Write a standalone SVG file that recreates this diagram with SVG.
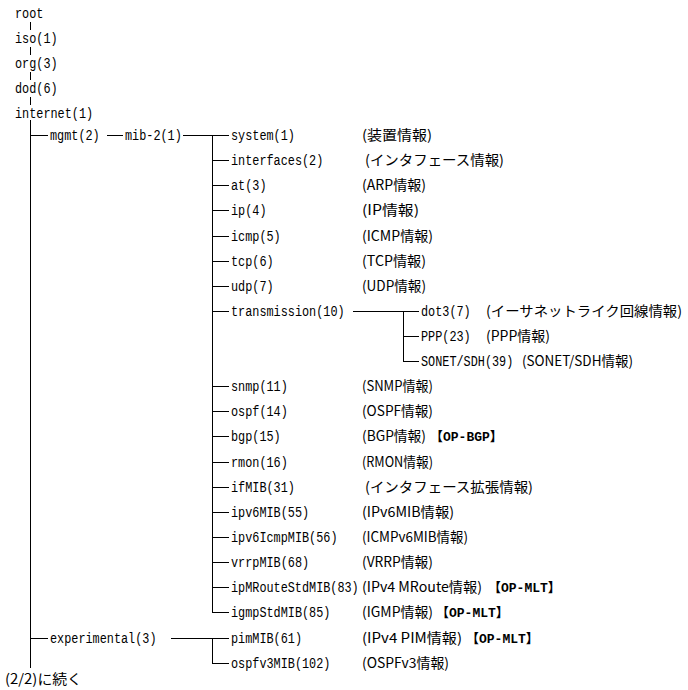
<svg xmlns="http://www.w3.org/2000/svg" width="688" height="690" viewBox="0 0 688 690">
<style>
.l{font-family:"Liberation Mono","Noto Sans CJK JP",monospace;font-size:14px;fill:#000}
.c{font-family:"Noto Sans CJK JP","Liberation Sans",sans-serif;font-size:14px;fill:#000}
.t{font-family:"Liberation Mono","Noto Sans CJK JP",monospace;font-size:13px;font-weight:bold;fill:#000}
.ln{stroke:#000;stroke-width:1;fill:none;shape-rendering:crispEdges}
</style>
<rect width="688" height="690" fill="#fff"/>
<g id="connectors" class="ln">
<path d="M30.5 22V30M30.5 47V55M30.5 72V80M30.5 97V105"/>
<path d="M30.5 120V668M30 135.5H48M30 638.5H48"/>
<path d="M107 135.5H123M183 135.5H229"/>
<path d="M212.5 135V612"/>
<path d="M212 160.5H229M212 185.5H229M212 210.5H229M212 236.5H229M212 261.5H229M212 286.5H229M212 311.5H229M212 386.5H229M212 411.5H229M212 436.5H229M212 462.5H229M212 487.5H229M212 512.5H229M212 537.5H229M212 562.5H229M212 587.5H229M212 612.5H229"/>
<path d="M353 311.5H419M403.5 311V361M403 336.5H419M403 361.5H419"/>
<path d="M171 638.5H229M212.5 638V663M212 663.5H229"/>
</g>
<g id="root"><text class="l" x="15" y="18" textLength="28.4" lengthAdjust="spacingAndGlyphs">root</text></g>
<g id="iso"><text class="l" x="15" y="43" textLength="42.6" lengthAdjust="spacingAndGlyphs">iso(1)</text></g>
<g id="org"><text class="l" x="15" y="68" textLength="42.6" lengthAdjust="spacingAndGlyphs">org(3)</text></g>
<g id="dod"><text class="l" x="15" y="93" textLength="42.6" lengthAdjust="spacingAndGlyphs">dod(6)</text></g>
<g id="internet"><text class="l" x="15" y="118" textLength="78.1" lengthAdjust="spacingAndGlyphs">internet(1)</text></g>
<g id="mgmt"><text class="l" x="50" y="140" textLength="49.7" lengthAdjust="spacingAndGlyphs">mgmt(2)</text></g>
<g id="mib-2"><text class="l" x="125" y="140" textLength="56.8" lengthAdjust="spacingAndGlyphs">mib-2(1)</text></g>
<g id="system"><text class="l" x="231" y="140" textLength="63.9" lengthAdjust="spacingAndGlyphs">system(1)</text><text class="c" x="362" y="140" textLength="70" lengthAdjust="spacingAndGlyphs">(装置情報)</text></g>
<g id="interfaces"><text class="l" x="231" y="165" textLength="92.3" lengthAdjust="spacingAndGlyphs">interfaces(2)</text><text class="c" x="365" y="165" textLength="139" lengthAdjust="spacingAndGlyphs">(インタフェース情報)</text></g>
<g id="at"><text class="l" x="231" y="190" textLength="35.5" lengthAdjust="spacingAndGlyphs">at(3)</text><text class="c" x="362" y="190" textLength="64" lengthAdjust="spacingAndGlyphs">(ARP情報)</text></g>
<g id="ip"><text class="l" x="231" y="215" textLength="35.5" lengthAdjust="spacingAndGlyphs">ip(4)</text><text class="c" x="362" y="215" textLength="57" lengthAdjust="spacingAndGlyphs">(IP情報)</text></g>
<g id="icmp"><text class="l" x="231" y="241" textLength="49.7" lengthAdjust="spacingAndGlyphs">icmp(5)</text><text class="c" x="362" y="241" textLength="71" lengthAdjust="spacingAndGlyphs">(ICMP情報)</text></g>
<g id="tcp"><text class="l" x="231" y="266" textLength="42.6" lengthAdjust="spacingAndGlyphs">tcp(6)</text><text class="c" x="362" y="266" textLength="64" lengthAdjust="spacingAndGlyphs">(TCP情報)</text></g>
<g id="udp"><text class="l" x="231" y="291" textLength="42.6" lengthAdjust="spacingAndGlyphs">udp(7)</text><text class="c" x="362" y="291" textLength="64" lengthAdjust="spacingAndGlyphs">(UDP情報)</text></g>
<g id="transmission"><text class="l" x="231" y="316" textLength="113.6" lengthAdjust="spacingAndGlyphs">transmission(10)</text></g>
<g id="dot3"><text class="l" x="421" y="316" textLength="49.7" lengthAdjust="spacingAndGlyphs">dot3(7)</text><text class="c" x="486" y="316" textLength="196" lengthAdjust="spacingAndGlyphs">(イーサネットライク回線情報)</text></g>
<g id="ppp"><text class="l" x="421" y="341" textLength="49.7" lengthAdjust="spacingAndGlyphs">PPP(23)</text><text class="c" x="486" y="341" textLength="64" lengthAdjust="spacingAndGlyphs">(PPP情報)</text></g>
<g id="sonet"><text class="l" x="421" y="366" textLength="92.3" lengthAdjust="spacingAndGlyphs">SONET/SDH(39)</text><text class="c" x="522" y="366" textLength="111" lengthAdjust="spacingAndGlyphs">(SONET/SDH情報)</text></g>
<g id="snmp"><text class="l" x="231" y="391" textLength="56.8" lengthAdjust="spacingAndGlyphs">snmp(11)</text><text class="c" x="362" y="391" textLength="71" lengthAdjust="spacingAndGlyphs">(SNMP情報)</text></g>
<g id="ospf"><text class="l" x="231" y="416" textLength="56.8" lengthAdjust="spacingAndGlyphs">ospf(14)</text><text class="c" x="362" y="416" textLength="71" lengthAdjust="spacingAndGlyphs">(OSPF情報)</text></g>
<g id="bgp"><text class="l" x="231" y="441" textLength="49.7" lengthAdjust="spacingAndGlyphs">bgp(15)</text><text class="c" x="362" y="441" textLength="64" lengthAdjust="spacingAndGlyphs">(BGP情報)</text><text class="t" x="430" y="441">【OP-BGP】</text></g>
<g id="rmon"><text class="l" x="231" y="467" textLength="56.8" lengthAdjust="spacingAndGlyphs">rmon(16)</text><text class="c" x="362" y="467" textLength="71" lengthAdjust="spacingAndGlyphs">(RMON情報)</text></g>
<g id="ifMIB"><text class="l" x="231" y="492" textLength="63.9" lengthAdjust="spacingAndGlyphs">ifMIB(31)</text><text class="c" x="365" y="492" textLength="168" lengthAdjust="spacingAndGlyphs">(インタフェース拡張情報)</text></g>
<g id="ipv6MIB"><text class="l" x="231" y="517" textLength="78.1" lengthAdjust="spacingAndGlyphs">ipv6MIB(55)</text><text class="c" x="362" y="517" textLength="92" lengthAdjust="spacingAndGlyphs">(IPv6MIB情報)</text></g>
<g id="ipv6IcmpMIB"><text class="l" x="231" y="542" textLength="106.5" lengthAdjust="spacingAndGlyphs">ipv6IcmpMIB(56)</text><text class="c" x="362" y="542" textLength="106" lengthAdjust="spacingAndGlyphs">(ICMPv6MIB情報)</text></g>
<g id="vrrpMIB"><text class="l" x="231" y="567" textLength="78.1" lengthAdjust="spacingAndGlyphs">vrrpMIB(68)</text><text class="c" x="362" y="567" textLength="71" lengthAdjust="spacingAndGlyphs">(VRRP情報)</text></g>
<g id="ipMRouteStdMIB"><text class="l" transform="translate(231,592) scale(0.845,1)">ipMRouteStdMIB(83)</text><text class="c" x="362" y="592" textLength="120" lengthAdjust="spacingAndGlyphs">(IPv4 MRoute情報)</text><text class="t" x="488" y="592">【OP-MLT】</text></g>
<g id="igmpStdMIB"><text class="l" x="231" y="617" textLength="99.4" lengthAdjust="spacingAndGlyphs">igmpStdMIB(85)</text><text class="c" x="362" y="617" textLength="71" lengthAdjust="spacingAndGlyphs">(IGMP情報)</text><text class="t" x="436" y="617">【OP-MLT】</text></g>
<g id="experimental"><text class="l" x="50" y="643" textLength="106.5" lengthAdjust="spacingAndGlyphs">experimental(3)</text></g>
<g id="pimMIB"><text class="l" x="231" y="643" textLength="71" lengthAdjust="spacingAndGlyphs">pimMIB(61)</text><text class="c" x="362" y="643" textLength="100" lengthAdjust="spacingAndGlyphs">(IPv4 PIM情報)</text><text class="t" x="466" y="643">【OP-MLT】</text></g>
<g id="ospfv3MIB"><text class="l" x="231" y="668" textLength="99.4" lengthAdjust="spacingAndGlyphs">ospfv3MIB(102)</text><text class="c" x="362" y="668" textLength="87" lengthAdjust="spacingAndGlyphs">(OSPFv3情報)</text></g>
<g id="continued"><text class="c" x="5" y="684" textLength="77" lengthAdjust="spacingAndGlyphs">(2/2)に続く</text></g>
</svg>
